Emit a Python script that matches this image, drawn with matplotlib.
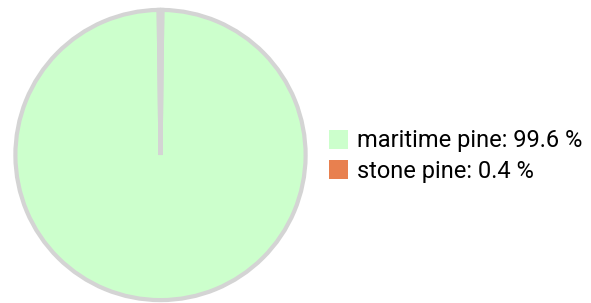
import matplotlib.pyplot as plt
from matplotlib.patches import Patch

# Data
species = ['maritime pine', 'stone pine']
shares = [99.6, 0.4]
colors = ['#ccffcc', '#e8804f']

plt.rcParams['font.family'] = ['Roboto', 'DejaVu Sans']

W, H = 591, 303
fig = plt.figure(figsize=(W / 100, H / 100), dpi=100)

# pie axes placed in pixels, small slice centred at 12 o'clock
ax = fig.add_axes([12.5 / W, 0 / H, 296 / W, 296 / H])
ax.pie(shares, colors=colors, startangle=90 - 3.6 * shares[1] / 2,
       counterclock=False,
       wedgeprops=dict(edgecolor='#d4d4d4', linewidth=3.0))
ax.set_xlim(-1.02, 1.02)
ax.set_ylim(-1.02, 1.02)
ax.set_aspect('auto')

handles = [Patch(facecolor=c, edgecolor='none') for c in colors]
labels = [f'{s}: {v} %' for s, v in zip(species, shares)]
fig.legend(handles, labels, loc='center left',
           bbox_to_anchor=(329 / W, (H - 156) / H),
           frameon=False, fontsize=17, borderpad=0,
           handlelength=0.8, handleheight=0.88, handletextpad=0.4,
           labelspacing=0.3, borderaxespad=0)

fig.savefig('out.png', dpi=100)
